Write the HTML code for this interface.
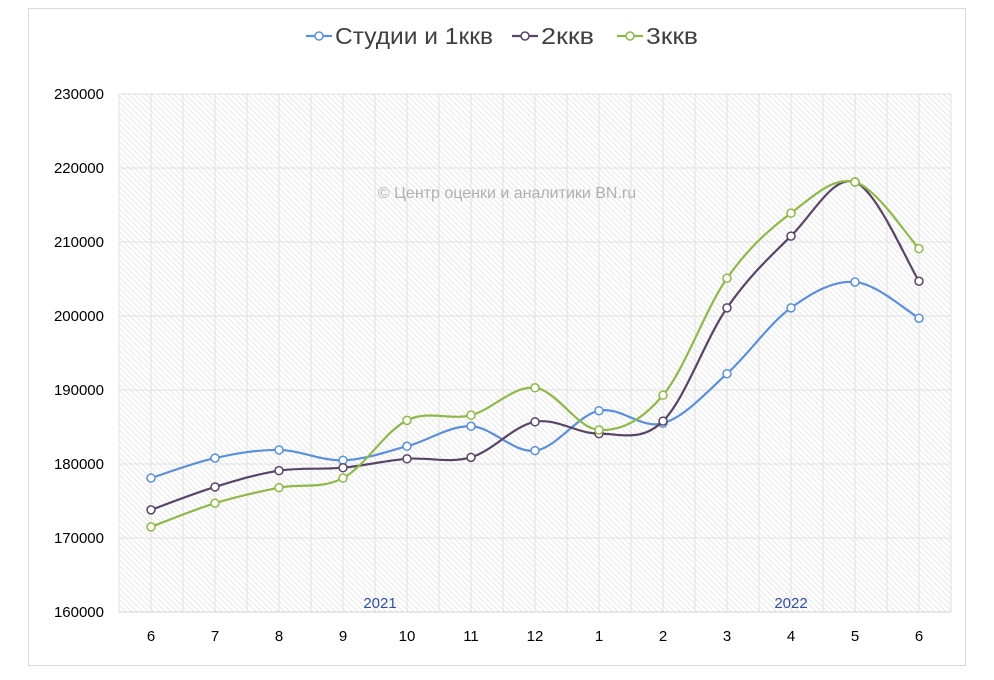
<!DOCTYPE html>
<html><head><meta charset="utf-8"><style>
body{margin:0;background:#fff;}
svg text{font-family:"Liberation Sans","DejaVu Sans",sans-serif;}
</style></head><body>
<svg id="chart" width="994" height="675">
<defs>
<pattern id="hatch" width="4" height="4" patternUnits="userSpaceOnUse" patternTransform="rotate(-45)">
<rect width="4" height="4" fill="#fff"/><line x1="0" y1="0" x2="0" y2="4" stroke="#e2e2e2" stroke-width="1.6"/>
</pattern>
</defs>
<rect x="28.5" y="8.5" width="937" height="657" fill="#fff" stroke="#d9d9d9"/>
<rect x="119" y="94" width="832" height="518" fill="url(#hatch)"/>
<g id="grid"></g>
<text x="507" y="198" font-size="16" fill="#b0b0b0" text-anchor="middle">© Центр оценки и аналитики BN.ru</text>
<text x="380" y="608" font-size="15" fill="#2f4f9f" text-anchor="middle">2021</text>
<text x="791" y="608" font-size="15" fill="#2f4f9f" text-anchor="middle">2022</text>
<g id="axes"></g>
<g id="series"></g>
<g id="legend"></g>
</svg>
<script>
const categories=["6","7","8","9","10","11","12","1","2","3","4","5","6"];
const studio=[178100,180800,181900,180500,182400,185100,181800,187200,185500,192200,201100,204600,199700];
const twoRoom=[173800,176900,179100,179500,180700,180900,185700,184100,185800,201100,210800,218100,204700];
const threeRoom=[171500,174700,176800,178100,185900,186600,190300,184600,189300,205100,213900,218100,209100];
const yTicks=[160000,170000,180000,190000,200000,210000,220000,230000];
const seriesNames=["Студии и 1ккв","2ккв","3ккв"];
const colors=["#5b8fd9","#584466","#8fb84a"];
const NS="http://www.w3.org/2000/svg";
const L=119,R=951,T=94,B=612;
const step=(R-L)/categories.length;
const x=i=>L+step*(i+0.5);
const y=v=>B-(v-160000)/(230000-160000)*(B-T);
function mk(t,a,p){const e=document.createElementNS(NS,t);for(const k in a)e.setAttribute(k,a[k]);p.appendChild(e);return e;}
const grid=document.getElementById('grid'),axes=document.getElementById('axes');
for(let k=0;k<=categories.length*2;k++){const gx=L+k*step/2;
const l=mk('line',{x1:gx,x2:gx,y1:T,y2:B,stroke:'#e0e0e0'},grid);

}
yTicks.forEach(v=>{const l=mk('line',{x1:L,x2:R,y1:y(v),y2:y(v),stroke:v===160000?'#d0d0d0':'#e0e0e0'},grid);


const t=mk('text',{x:104,y:y(v)+5,'font-size':15,'text-anchor':'end',fill:'#000'},axes);t.textContent=v;

});
categories.forEach((c,i)=>{const t=mk('text',{x:x(i),y:641,'font-size':15,'text-anchor':'middle',fill:'#000'},axes);t.textContent=c;

});
function smooth(pts){let d=`M${pts[0][0]},${pts[0][1]}`;const tn=0.17;
for(let i=0;i<pts.length-1;i++){const p0=pts[i-1]||pts[i],p1=pts[i],p2=pts[i+1],p3=pts[i+2]||p2;
d+=` C${p1[0]+(p2[0]-p0[0])*tn},${p1[1]+(p2[1]-p0[1])*tn} ${p2[0]-(p3[0]-p1[0])*tn},${p2[1]-(p3[1]-p1[1])*tn} ${p2[0]},${p2[1]}`;}return d;}
const sg=document.getElementById('series');
[studio,twoRoom,threeRoom].forEach((arr,si)=>{const g=mk('g',{},sg);


const pts=arr.map((v,i)=>[x(i),y(v)]);
const p=mk('path',{d:smooth(pts),fill:'none',stroke:colors[si],'stroke-width':2.2},g);


pts.forEach(q=>{const c=mk('circle',{cx:q[0],cy:q[1],r:4,fill:'#fff',stroke:colors[si],'stroke-width':1.5},g);

});});
const lg=document.getElementById('legend');const lx=[306,512,617];
seriesNames.forEach((n,i)=>{const g=mk('g',{},lg);


mk('line',{x1:lx[i],x2:lx[i]+26,y1:36,y2:36,stroke:colors[i],'stroke-width':2.2},g);
mk('circle',{cx:lx[i]+13,cy:36,r:4,fill:'#fff',stroke:colors[i],'stroke-width':1.5},g);
const t=mk('text',{x:lx[i]+29,y:44,'font-size':23,fill:'#404040',textLength:[158,53,52][i],lengthAdjust:'spacingAndGlyphs'},g);t.textContent=n;});
</script>
</body></html>
